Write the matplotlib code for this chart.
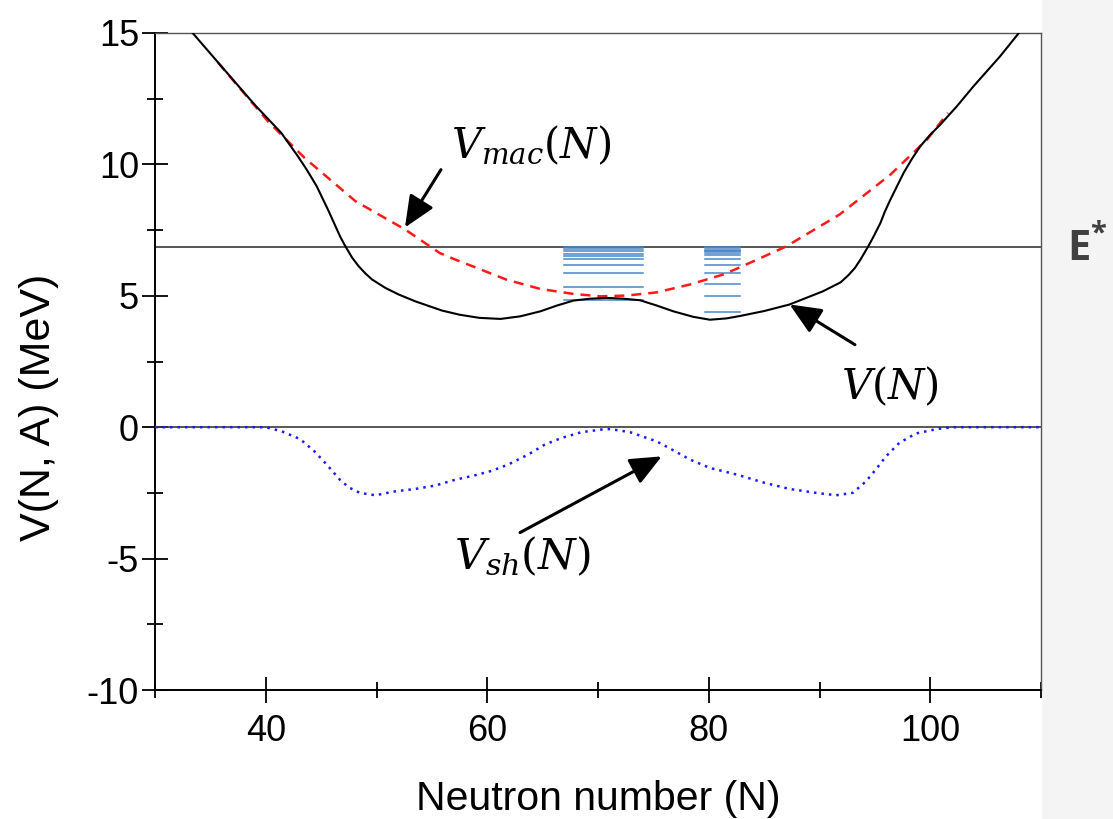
import matplotlib
matplotlib.use("Agg")
import matplotlib.pyplot as plt
from matplotlib.ticker import MultipleLocator
from matplotlib.patches import Rectangle

plt.rcParams['font.family'] = ['Liberation Sans', 'DejaVu Sans']
plt.rcParams['mathtext.fontset'] = 'dejavuserif'
plt.rcParams['axes.unicode_minus'] = False

# Total potential V(N)
n_total = [33.4, 36.0, 39.0, 41.4, 42.9, 43.7, 44.6, 45.65, 46.7, 47.1, 47.8, 48.4,
           49.0, 49.6, 50.8, 52.0, 53.5, 55.9, 57.5, 59.3, 61.2, 63.0, 64.8, 66.3,
           67.8, 69.3, 70.8, 72.3, 73.8, 75.3, 76.8, 78.6, 80.1, 81.6, 82.8, 85.0,
           87.3, 90.3, 91.9, 92.6, 93.2, 93.7, 94.4, 94.9, 95.5, 95.9, 96.4, 97.0,
           97.6, 98.3, 99.1, 100.0, 100.9, 102.4, 103.9, 106.3, 108.0]
v_total = [15.0, 13.73, 12.27, 11.2, 10.31, 9.80, 9.17, 8.25, 7.27, 6.95, 6.45, 6.12,
           5.85, 5.62, 5.30, 5.05, 4.79, 4.44, 4.28, 4.16, 4.12, 4.22, 4.41, 4.63,
           4.82, 4.89, 4.92, 4.89, 4.83, 4.63, 4.41, 4.20, 4.09, 4.14, 4.23, 4.42,
           4.67, 5.17, 5.51, 5.78, 6.06, 6.38, 6.88, 7.27, 7.77, 8.20, 8.66, 9.17,
           9.68, 10.18, 10.69, 11.13, 11.51, 12.21, 12.97, 14.11, 15.0]

# Macroscopic part V_mac(N)
n_mac = [35.7, 40.2, 43.5, 48.1, 52.6, 55.7, 57.1, 58.7, 61.7, 64.8, 67.8, 70.2,
         72.6, 75.3, 78.3, 81.3, 82.8, 87.0, 91.8, 96.4, 99.7, 101.6]
v_mac = [13.87, 11.64, 10.25, 8.60, 7.52, 6.63, 6.38, 6.12, 5.62, 5.26, 5.07, 4.98,
         5.01, 5.13, 5.43, 5.81, 6.08, 6.88, 8.09, 9.61, 10.94, 11.96]

# Shell correction V_sh(N)
n_sh = [30.0, 40.0, 41.4, 43.1, 44.4, 45.5, 46.7, 47.5, 48.5, 49.9, 51.7, 53.5, 55.3,
        57.1, 58.9, 60.4, 61.9, 63.7, 65.2, 66.7, 68.5, 70.3, 71.1, 72.9, 75.3, 76.8,
        78.3, 80.1, 82.5, 84.9, 87.3, 89.7, 91.5, 93.0, 94.2, 95.2, 96.0, 97.2, 98.7,
        100.6, 102.0, 110.0]
v_sh = [0.0, 0.0, -0.15, -0.45, -0.92, -1.42, -2.0, -2.29, -2.5, -2.59, -2.44, -2.35,
        -2.22, -2.0, -1.83, -1.66, -1.42, -1.04, -0.66, -0.41, -0.19, -0.09, -0.07,
        -0.19, -0.54, -0.88, -1.23, -1.55, -1.80, -2.10, -2.35, -2.50, -2.59, -2.50,
        -2.06, -1.55, -1.11, -0.60, -0.24, -0.07, 0.0, 0.0]

# Excitation energy and discrete levels of the two fragment groups
e_star = 6.87
levels_left = [6.84, 6.79, 6.72, 6.60, 6.50, 6.40, 6.16, 5.87, 5.34, 4.84]
levels_left_span = (66.9, 74.1)
levels_right = [6.84, 6.80, 6.76, 6.72, 6.69, 6.63, 6.54, 6.40, 6.16, 5.87, 5.43,
                4.98, 4.39]
levels_right_span = (79.7, 82.8)

x_ticks = [40, 60, 80, 100]
y_ticks = [-10, -5, 0, 5, 10, 15]

fig = plt.figure(figsize=(11.13, 8.19), dpi=100)
fig.patches.append(Rectangle((1042 / 1113, 0), 1 - 1042 / 1113, 1,
                             transform=fig.transFigure, facecolor='#f4f4f4',
                             edgecolor='none', zorder=-5))
ax = fig.add_axes([155 / 1113, 1 - 690 / 819, (1041 - 155) / 1113, (690 - 33) / 819])
ax.set_xlim(30, 110)
ax.set_ylim(-10, 15)

# reference lines
ax.axhline(e_star, color='#3a3a3a', lw=1.2, zorder=2)
ax.axhline(0, color='#3a3a3a', lw=1.2, zorder=2)

# level schemes
for lv in levels_left:
    ax.plot(levels_left_span, [lv, lv], color='#4a86c8', lw=1.1, zorder=3)
for lv in levels_right:
    ax.plot(levels_right_span, [lv, lv], color='#4a86c8', lw=1.1, zorder=3)

ax.plot(n_mac, v_mac, color='#ff1a1a', lw=1.8, ls=(0, (4, 2.8)), zorder=4)
ax.plot(n_sh, v_sh, color='#1a1aff', lw=1.8, ls=(0, (1, 2)), zorder=4)
ax.plot(n_total, v_total, color='black', lw=1.5, zorder=5, solid_joinstyle='round')

# labels with arrows
arrow = dict(arrowstyle='-|>,head_length=0.8,head_width=0.35', lw=2.2, color='black',
             mutation_scale=24, shrinkA=0, shrinkB=0)
ax.annotate('', xy=(52.57, 7.60), xytext=(55.82, 9.80), arrowprops=arrow, zorder=6)
ax.annotate('', xy=(87.3, 4.67), xytext=(93.2, 3.14), arrowprops=arrow, zorder=6)
ax.annotate('', xy=(75.75, -1.11), xytext=(62.96, -4.01), arrowprops=arrow, zorder=6)

ax.text(63.95, 10.72, r'$V_{mac}(N)$', fontsize=30, ha='center', va='center')
ax.text(96.37, 1.54, r'$V(N)$', fontsize=30, ha='center', va='center')
ax.text(63.2, -4.93, r'$V_{sh}(N)$', fontsize=31, ha='center', va='center')

fig.text(1067 / 1113, 1 - 249 / 819, 'E', fontsize=30, fontweight='bold',
         family='Open Sans', color='#404040', ha='left', va='center')
fig.text(1090 / 1113, 1 - 234 / 819, '*', fontsize=21, fontweight='bold',
         family='Open Sans', color='#404040', ha='left', va='center')

# axes styling
for side in ['left', 'bottom']:
    ax.spines[side].set_linewidth(1.4)
    ax.spines[side].set_color('black')
for side in ['top', 'right']:
    ax.spines[side].set_linewidth(1.0)
    ax.spines[side].set_color('#555555')

ax.set_xticks(x_ticks)
ax.set_yticks(y_ticks)
ax.xaxis.set_minor_locator(MultipleLocator(10))
ax.yaxis.set_minor_locator(MultipleLocator(2.5))
ax.tick_params(which='major', direction='inout', length=19, width=1.3,
               labelsize=26, pad=2, top=False, right=False)
ax.tick_params(which='minor', direction='inout', length=11, width=1.3,
               top=False, right=False)
ax.tick_params(axis='x', which='major', pad=8)

ax.set_xlabel('Neutron number (N)', fontsize=29.5)
ax.xaxis.set_label_coords(0.5, -0.137)
ax.set_ylabel('V(N, A) (MeV)', fontsize=31)
ax.yaxis.set_label_coords(-0.108, 0.43)

fig.savefig('out.png', dpi=100)
